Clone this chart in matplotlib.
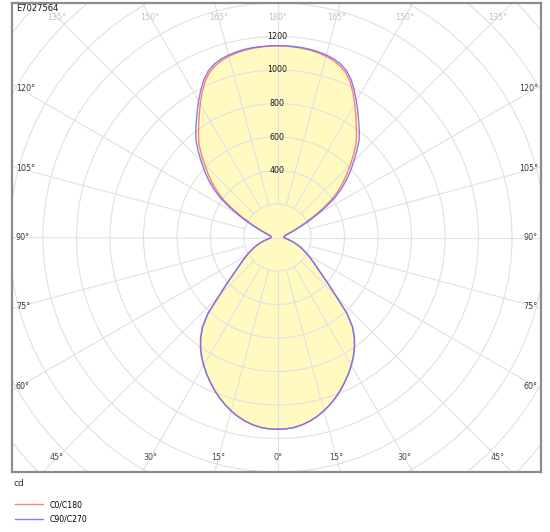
import numpy as np
import matplotlib
matplotlib.use("Agg")
import matplotlib.pyplot as plt
from matplotlib.patches import Circle

# ---------------- data ----------------
gamma_deg = [0, 2.5, 5, 7.5, 10, 12.5, 15, 17.5, 20, 22.5, 25, 27.5, 30, 32.5, 35, 37.5,
             40, 42.5, 45, 47.5, 50, 52.5, 55, 57.5, 60, 62.5, 65, 67.5, 70, 72.5, 75,
             77.5, 80, 82.5, 85, 87.5, 90, 92.5, 95, 97.5, 100, 102.5, 105, 107.5, 110,
             112.5, 115, 117.5, 120, 122.5, 125, 127.5, 130, 132.5, 135, 137.5, 140,
             142.5, 145, 147.5, 150, 152.5, 155, 157.5, 160, 162.5, 165, 167.5, 170,
             172.5, 175, 177.5, 180]
c0_c180 = [1145, 1143, 1138, 1127, 1112, 1093, 1070, 1044, 1015, 984, 950, 916, 880, 842,
           800, 752, 695, 612, 492, 412, 345, 300, 265, 235, 210, 186, 165, 145, 125, 107,
           90, 74, 60, 50, 43, 40, 40, 39, 38, 39, 40, 42, 45, 55, 70, 95, 130, 180, 245,
           320, 395, 455, 510, 563, 615, 672, 730, 775, 820, 870, 922, 975, 1025, 1065,
           1090, 1108, 1120, 1129, 1135, 1139, 1142, 1144, 1145]
c90_c270 = [1145, 1144, 1139, 1129, 1114, 1095, 1072, 1046, 1017, 986, 952, 918, 882, 844,
            802, 755, 698, 615, 495, 415, 348, 302, 267, 237, 212, 188, 167, 147, 127, 109,
            92, 76, 62, 51, 44, 41, 40, 39, 38, 40, 43, 46, 50, 62, 80, 110, 148, 203, 270,
            347, 423, 484, 540, 593, 645, 701, 758, 802, 845, 893, 942, 992, 1040, 1078,
            1102, 1118, 1128, 1135, 1140, 1143, 1144, 1145, 1145]
series_names = ["C0/C180", "C90/C270"]
ring_values = [400, 600, 800, 1000, 1200]
top_angles = [135, 150, 165, 180]
side_angles = [120, 105, 90, 75, 60]
bottom_angles = [45, 30, 15, 0]
title_text = "E7027564"
unit_text = "cd"

# ---------------- style ----------------
W, H = 550, 532
PX = 0.1675          # pixels per cd
CX, CY = 277.5, 237.5
L, R, T, B = 12, 541, 3, 472
grid_c = "#e2e2e2"
fill_c = "#fffbc0"
red_c = "#ff6a6a"
blue_c = "#6a6aff"
font = ["DejaVu Sans"]
lab_fs = 5.8

fig = plt.figure(figsize=(W / 100, H / 100), dpi=100)
ax = fig.add_axes([L / W, (H - B) / H, (R - L) / W, (B - T) / H])
ax.set_xlim((L - CX) / PX, (R - CX) / PX)
ax.set_ylim(-(B - CY) / PX, (CY - T) / PX)
ax.set_xticks([])
ax.set_yticks([])
for s in ax.spines.values():
    s.set_color("#8c8c8c")
    s.set_linewidth(1.6)
    s.set_zorder(10)


def to_xy(g, v, side):
    g = np.radians(np.asarray(g, dtype=float))
    v = np.asarray(v, dtype=float)
    return side * v * np.sin(g), -v * np.cos(g)


def closed_curve(vals):
    xr, yr = to_xy(gamma_deg, vals, 1)
    xl, yl = to_xy(gamma_deg[::-1], vals[::-1], -1)
    return np.concatenate([xr, xl]), np.concatenate([yr, yl])


curves = [closed_curve(c0_c180), closed_curve(c90_c270)]

# fill (union of both planes)
for xs, ys in curves:
    ax.fill(xs, ys, color=fill_c, lw=0, zorder=1)

# grid
for r in range(200, 2600, 200):
    ax.add_patch(Circle((0, 0), r, fill=False, ec=grid_c, lw=0.85, zorder=2))
for a in range(0, 360, 15):
    ar = np.radians(a)
    r0 = 0 if a in (90, 270) else 200
    ax.plot([r0 * np.sin(ar), 3000 * np.sin(ar)], [-r0 * np.cos(ar), -3000 * np.cos(ar)],
            color=grid_c, lw=0.85, zorder=2)

# curves
lines = []
for (xs, ys), c, name in zip(curves, [red_c, blue_c], series_names):
    ln, = ax.plot(xs, ys, color=c, lw=1.0, alpha=0.85, zorder=4, label=name,
                  solid_joinstyle="round")
    lines.append(ln)

# ring labels
for v in ring_values:
    ax.text(0, v, str(v), ha="center", va="center", fontsize=lab_fs, color="#1a1a1a",
            family=font, zorder=6)

# angle labels
YLAB = 220.5 / PX
XLAB = 257.5 / PX
XL_TXT = (16 - CX) / PX
XR_TXT = (538 - CX) / PX
for g in top_angles:
    x = YLAB * np.tan(np.radians(180 - g))
    for sx in ([1] if g == 180 else [-1, 1]):
        ax.text(sx * x, YLAB, f"{g}°", ha="center", va="center", fontsize=lab_fs,
                color="#c4c4c4", family=font, zorder=6)
for g in bottom_angles:
    x = YLAB * np.tan(np.radians(g))
    for sx in ([1] if g == 0 else [-1, 1]):
        ax.text(sx * x, -YLAB, f"{g}°", ha="center", va="center", fontsize=lab_fs,
                color="#4a4a4a", family=font, zorder=6)
for g in side_angles:
    y = -XLAB * np.cos(np.radians(g)) / np.sin(np.radians(g))
    ax.text(XL_TXT, y, f"{g}°", ha="left", va="center", fontsize=lab_fs,
            color="#3a3a3a", family=font, zorder=6)
    ax.text(XR_TXT, y, f"{g}°", ha="right", va="center", fontsize=lab_fs,
            color="#3a3a3a", family=font, zorder=6)

# texts outside
fig.text(16 / W, 1 - 8.5 / H, title_text, ha="left", va="center", fontsize=6.0,
         color="#1a1a1a", family=font, zorder=12)
fig.text(13 / W, 1 - 484 / H, unit_text, ha="left", va="center", fontsize=6.6,
         color="#333333", family=font)

fig.legend(handles=lines, labels=series_names, loc="upper left",
           bbox_to_anchor=(15 / W, 1 - 500 / H), frameon=False,
           handlelength=3.6, handletextpad=0.9, labelspacing=0.75,
           borderaxespad=0, borderpad=0, prop={"family": font, "size": 5.6})

fig.savefig("out.png", dpi=100, facecolor="white")
